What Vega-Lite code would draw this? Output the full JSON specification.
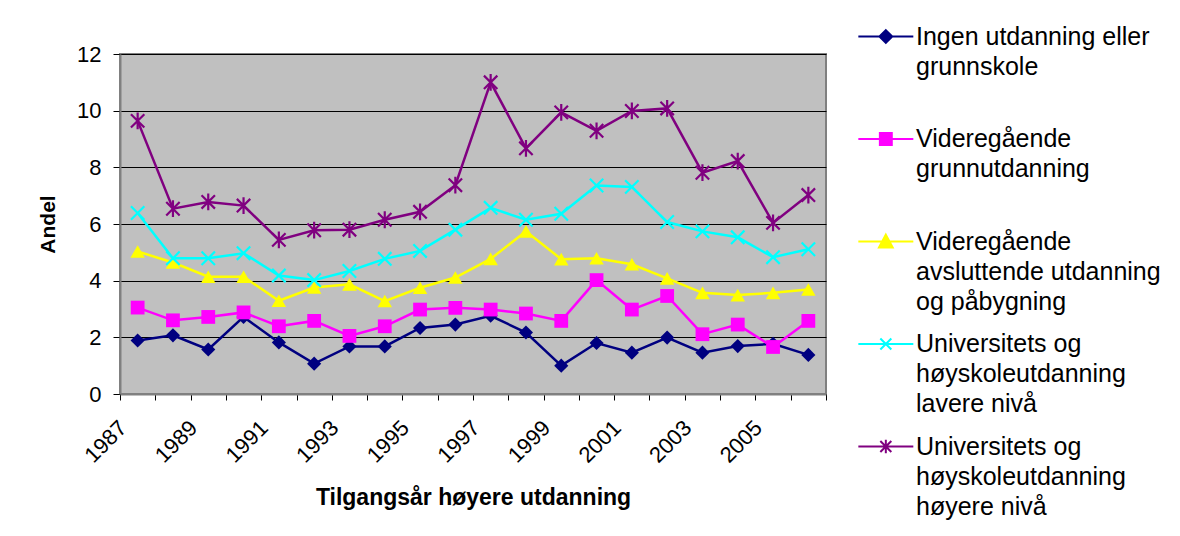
{
  "$schema": "https://vega.github.io/schema/vega-lite/v6.json",
  "autosize": {"type": "none"},
  "width": 706,
  "height": 340,
  "padding": {"left": 120, "top": 54, "right": 354, "bottom": 142},
  "background": "white",
  "config": {
    "view": {"fill": "#C0C0C0", "stroke": "#808080", "strokeWidth": 2},
    "font": "Liberation Sans",
    "axis": {"labelFont": "Liberation Sans", "titleFont": "Liberation Sans", "labelColor": "#000000", "titleColor": "#000000", "tickColor": "#000000", "domainColor": "#808080", "domainWidth": 2}
  },
  "data": {"values": [
    {"year": "1987", "series": "Ingen utdanning eller grunnskole", "value": 1.89},
    {"year": "1988", "series": "Ingen utdanning eller grunnskole", "value": 2.07},
    {"year": "1989", "series": "Ingen utdanning eller grunnskole", "value": 1.57},
    {"year": "1990", "series": "Ingen utdanning eller grunnskole", "value": 2.72},
    {"year": "1991", "series": "Ingen utdanning eller grunnskole", "value": 1.82},
    {"year": "1992", "series": "Ingen utdanning eller grunnskole", "value": 1.07},
    {"year": "1993", "series": "Ingen utdanning eller grunnskole", "value": 1.68},
    {"year": "1994", "series": "Ingen utdanning eller grunnskole", "value": 1.68},
    {"year": "1995", "series": "Ingen utdanning eller grunnskole", "value": 2.33},
    {"year": "1996", "series": "Ingen utdanning eller grunnskole", "value": 2.45},
    {"year": "1997", "series": "Ingen utdanning eller grunnskole", "value": 2.76},
    {"year": "1998", "series": "Ingen utdanning eller grunnskole", "value": 2.17},
    {"year": "1999", "series": "Ingen utdanning eller grunnskole", "value": 1.0},
    {"year": "2000", "series": "Ingen utdanning eller grunnskole", "value": 1.8},
    {"year": "2001", "series": "Ingen utdanning eller grunnskole", "value": 1.46},
    {"year": "2002", "series": "Ingen utdanning eller grunnskole", "value": 1.99},
    {"year": "2003", "series": "Ingen utdanning eller grunnskole", "value": 1.46},
    {"year": "2004", "series": "Ingen utdanning eller grunnskole", "value": 1.69},
    {"year": "2005", "series": "Ingen utdanning eller grunnskole", "value": 1.77},
    {"year": "2006", "series": "Ingen utdanning eller grunnskole", "value": 1.38},
    {"year": "1987", "series": "Videregående grunnutdanning", "value": 3.05},
    {"year": "1988", "series": "Videregående grunnutdanning", "value": 2.6},
    {"year": "1989", "series": "Videregående grunnutdanning", "value": 2.72},
    {"year": "1990", "series": "Videregående grunnutdanning", "value": 2.88},
    {"year": "1991", "series": "Videregående grunnutdanning", "value": 2.39},
    {"year": "1992", "series": "Videregående grunnutdanning", "value": 2.58},
    {"year": "1993", "series": "Videregående grunnutdanning", "value": 2.05},
    {"year": "1994", "series": "Videregående grunnutdanning", "value": 2.39},
    {"year": "1995", "series": "Videregående grunnutdanning", "value": 2.98},
    {"year": "1996", "series": "Videregående grunnutdanning", "value": 3.04},
    {"year": "1997", "series": "Videregående grunnutdanning", "value": 2.98},
    {"year": "1998", "series": "Videregående grunnutdanning", "value": 2.84},
    {"year": "1999", "series": "Videregående grunnutdanning", "value": 2.58},
    {"year": "2000", "series": "Videregående grunnutdanning", "value": 4.02},
    {"year": "2001", "series": "Videregående grunnutdanning", "value": 2.98},
    {"year": "2002", "series": "Videregående grunnutdanning", "value": 3.46},
    {"year": "2003", "series": "Videregående grunnutdanning", "value": 2.11},
    {"year": "2004", "series": "Videregående grunnutdanning", "value": 2.45},
    {"year": "2005", "series": "Videregående grunnutdanning", "value": 1.66},
    {"year": "2006", "series": "Videregående grunnutdanning", "value": 2.58},
    {"year": "1987", "series": "Videregående avsluttende utdanning og påbygning", "value": 5.03},
    {"year": "1988", "series": "Videregående avsluttende utdanning og påbygning", "value": 4.64},
    {"year": "1989", "series": "Videregående avsluttende utdanning og påbygning", "value": 4.14},
    {"year": "1990", "series": "Videregående avsluttende utdanning og påbygning", "value": 4.14},
    {"year": "1991", "series": "Videregående avsluttende utdanning og påbygning", "value": 3.29},
    {"year": "1992", "series": "Videregående avsluttende utdanning og påbygning", "value": 3.76},
    {"year": "1993", "series": "Videregående avsluttende utdanning og påbygning", "value": 3.87},
    {"year": "1994", "series": "Videregående avsluttende utdanning og påbygning", "value": 3.28},
    {"year": "1995", "series": "Videregående avsluttende utdanning og påbygning", "value": 3.75},
    {"year": "1996", "series": "Videregående avsluttende utdanning og påbygning", "value": 4.11},
    {"year": "1997", "series": "Videregående avsluttende utdanning og påbygning", "value": 4.77},
    {"year": "1998", "series": "Videregående avsluttende utdanning og påbygning", "value": 5.74},
    {"year": "1999", "series": "Videregående avsluttende utdanning og påbygning", "value": 4.76},
    {"year": "2000", "series": "Videregående avsluttende utdanning og påbygning", "value": 4.79},
    {"year": "2001", "series": "Videregående avsluttende utdanning og påbygning", "value": 4.58},
    {"year": "2002", "series": "Videregående avsluttende utdanning og påbygning", "value": 4.08},
    {"year": "2003", "series": "Videregående avsluttende utdanning og påbygning", "value": 3.57},
    {"year": "2004", "series": "Videregående avsluttende utdanning og påbygning", "value": 3.49},
    {"year": "2005", "series": "Videregående avsluttende utdanning og påbygning", "value": 3.57},
    {"year": "2006", "series": "Videregående avsluttende utdanning og påbygning", "value": 3.69},
    {"year": "1987", "series": "Universitets og høyskoleutdanning lavere nivå", "value": 6.39},
    {"year": "1988", "series": "Universitets og høyskoleutdanning lavere nivå", "value": 4.79},
    {"year": "1989", "series": "Universitets og høyskoleutdanning lavere nivå", "value": 4.79},
    {"year": "1990", "series": "Universitets og høyskoleutdanning lavere nivå", "value": 4.97},
    {"year": "1991", "series": "Universitets og høyskoleutdanning lavere nivå", "value": 4.18},
    {"year": "1992", "series": "Universitets og høyskoleutdanning lavere nivå", "value": 4.02},
    {"year": "1993", "series": "Universitets og høyskoleutdanning lavere nivå", "value": 4.34},
    {"year": "1994", "series": "Universitets og høyskoleutdanning lavere nivå", "value": 4.77},
    {"year": "1995", "series": "Universitets og høyskoleutdanning lavere nivå", "value": 5.05},
    {"year": "1996", "series": "Universitets og høyskoleutdanning lavere nivå", "value": 5.8},
    {"year": "1997", "series": "Universitets og høyskoleutdanning lavere nivå", "value": 6.57},
    {"year": "1998", "series": "Universitets og høyskoleutdanning lavere nivå", "value": 6.15},
    {"year": "1999", "series": "Universitets og høyskoleutdanning lavere nivå", "value": 6.36},
    {"year": "2000", "series": "Universitets og høyskoleutdanning lavere nivå", "value": 7.36},
    {"year": "2001", "series": "Universitets og høyskoleutdanning lavere nivå", "value": 7.31},
    {"year": "2002", "series": "Universitets og høyskoleutdanning lavere nivå", "value": 6.07},
    {"year": "2003", "series": "Universitets og høyskoleutdanning lavere nivå", "value": 5.74},
    {"year": "2004", "series": "Universitets og høyskoleutdanning lavere nivå", "value": 5.53},
    {"year": "2005", "series": "Universitets og høyskoleutdanning lavere nivå", "value": 4.83},
    {"year": "2006", "series": "Universitets og høyskoleutdanning lavere nivå", "value": 5.11},
    {"year": "1987", "series": "Universitets og høyskoleutdanning høyere nivå", "value": 9.64},
    {"year": "1988", "series": "Universitets og høyskoleutdanning høyere nivå", "value": 6.54},
    {"year": "1989", "series": "Universitets og høyskoleutdanning høyere nivå", "value": 6.78},
    {"year": "1990", "series": "Universitets og høyskoleutdanning høyere nivå", "value": 6.65},
    {"year": "1991", "series": "Universitets og høyskoleutdanning høyere nivå", "value": 5.44},
    {"year": "1992", "series": "Universitets og høyskoleutdanning høyere nivå", "value": 5.78},
    {"year": "1993", "series": "Universitets og høyskoleutdanning høyere nivå", "value": 5.8},
    {"year": "1994", "series": "Universitets og høyskoleutdanning høyere nivå", "value": 6.15},
    {"year": "1995", "series": "Universitets og høyskoleutdanning høyere nivå", "value": 6.43},
    {"year": "1996", "series": "Universitets og høyskoleutdanning høyere nivå", "value": 7.37},
    {"year": "1997", "series": "Universitets og høyskoleutdanning høyere nivå", "value": 11.0},
    {"year": "1998", "series": "Universitets og høyskoleutdanning høyere nivå", "value": 8.67},
    {"year": "1999", "series": "Universitets og høyskoleutdanning høyere nivå", "value": 9.94},
    {"year": "2000", "series": "Universitets og høyskoleutdanning høyere nivå", "value": 9.29},
    {"year": "2001", "series": "Universitets og høyskoleutdanning høyere nivå", "value": 9.99},
    {"year": "2002", "series": "Universitets og høyskoleutdanning høyere nivå", "value": 10.08},
    {"year": "2003", "series": "Universitets og høyskoleutdanning høyere nivå", "value": 7.81},
    {"year": "2004", "series": "Universitets og høyskoleutdanning høyere nivå", "value": 8.22},
    {"year": "2005", "series": "Universitets og høyskoleutdanning høyere nivå", "value": 6.04},
    {"year": "2006", "series": "Universitets og høyskoleutdanning høyere nivå", "value": 7.02}
  ]},
  "encoding": {
    "x": {
      "field": "year", "type": "ordinal",
      "scale": {"type": "band", "paddingInner": 0, "paddingOuter": 0},
      "axis": {
        "title": "Tilgangsår høyere utdanning",
        "titleFontSize": 23, "titleFontWeight": "bold", "titlePadding": 20,
        "tickBand": "extent", "tickSize": 6, "grid": false,
        "labelAngle": -45, "labelAlign": "right", "labelBaseline": "middle",
        "labelOffset": -15, "labelPadding": 24, "labelFontSize": 22,
        "labelOverlap": false,
        "labelExpr": "toNumber(datum.value) % 2 == 1 ? datum.value : ''"
      }
    },
    "y": {
      "field": "value", "type": "quantitative",
      "scale": {"domain": [0, 12], "nice": false, "zero": true},
      "axis": {
        "title": "Andel", "titleFontSize": 21, "titleFontWeight": "bold", "titlePadding": 18,
        "values": [0, 2, 4, 6, 8, 10, 12],
        "tickSize": 7, "labelPadding": 12, "labelFontSize": 22,
        "grid": true, "gridColor": "#000000", "gridWidth": 1, "gridOpacity": 1
      }
    }
  },
  "layer": [
    {
      "mark": {"type": "line", "strokeWidth": 2.5},
      "encoding": {
        "color": {
          "field": "series", "type": "nominal",
          "scale": {
            "domain": ["Ingen utdanning eller grunnskole", "Videregående grunnutdanning", "Videregående avsluttende utdanning og påbygning", "Universitets og høyskoleutdanning lavere nivå", "Universitets og høyskoleutdanning høyere nivå"],
            "range": ["#000080", "#FF00FF", "#FFFF00", "#00FFFF", "#800080"]
          },
          "legend": {
            "title": null,
            "orient": "none", "legendX": 735, "legendY": -30,
            "padding": 0,
            "symbolSize": 336, "symbolStrokeWidth": 2,
            "labelFont": "Liberation Sans", "labelFontSize": 25, "labelColor": "#000000",
            "labelLimit": 400, "labelOffset": 36, "labelBaseline": "top",
            "rowPadding": 16.5,
            "labelExpr": "datum.label == 'Ingen utdanning eller grunnskole' ? ['Ingen utdanning eller', 'grunnskole', ''] : datum.label == 'Videregående grunnutdanning' ? ['Videregående', 'grunnutdanning', ''] : datum.label == 'Videregående avsluttende utdanning og påbygning' ? ['Videregående', 'avsluttende utdanning', 'og påbygning'] : datum.label == 'Universitets og høyskoleutdanning lavere nivå' ? ['Universitets og', 'høyskoleutdanning', 'lavere nivå'] : ['Universitets og', 'høyskoleutdanning', 'høyere nivå']",
            "encode": {
              "labels": {"update": {"lineHeight": {"value": 30}, "dy": {"value": -12}}},
              "symbols": {"update": {
                "shape": {"signal": "datum.value == 'Ingen utdanning eller grunnskole' ? 'M-1,0L5,0M2,-0.7L2.7,0L2,0.7L1.3,0Z' : datum.value == 'Videregående grunnutdanning' ? 'M-1,0L5,0M1.35,-0.65L2.65,-0.65L2.65,0.65L1.35,0.65Z' : datum.value == 'Videregående avsluttende utdanning og påbygning' ? 'M-1,0L5,0M2,-0.75L2.75,0.65L1.25,0.65Z' : datum.value == 'Universitets og høyskoleutdanning lavere nivå' ? 'M-1,0L5,0M1.4,-0.6L2.6,0.6M1.4,0.6L2.6,-0.6' : 'M-1,0L5,0M1.4,-0.6L2.6,0.6M1.4,0.6L2.6,-0.6M2,-0.75L2,0.75'"},
                "fill": {"scale": "color", "field": "value"},
                "stroke": {"scale": "color", "field": "value"},
                "strokeWidth": {"value": 2}
              }}
            }
          }
        }
      }
    },
    {
      "transform": [{"filter": "datum.series == 'Ingen utdanning eller grunnskole'"}],
      "mark": {"type": "point", "shape": "diamond", "filled": true, "opacity": 1, "color": "#000080", "size": 200}
    },
    {
      "transform": [{"filter": "datum.series == 'Videregående grunnutdanning'"}],
      "mark": {"type": "point", "shape": "square", "filled": true, "opacity": 1, "color": "#FF00FF", "size": 190}
    },
    {
      "transform": [{"filter": "datum.series == 'Videregående avsluttende utdanning og påbygning'"}],
      "mark": {"type": "point", "shape": "triangle-up", "filled": true, "opacity": 1, "color": "#FFFF00", "size": 210}
    },
    {
      "transform": [{"filter": "datum.series == 'Universitets og høyskoleutdanning lavere nivå'"}],
      "mark": {"type": "point", "shape": "M-1,-1L1,1M-1,1L1,-1", "filled": false, "opacity": 1, "color": "#00FFFF", "strokeWidth": 2.2, "size": 180}
    },
    {
      "transform": [{"filter": "datum.series == 'Universitets og høyskoleutdanning høyere nivå'"}],
      "mark": {"type": "point", "shape": "M-1,-1L1,1M-1,1L1,-1M0,-1.25L0,1.25", "filled": false, "opacity": 1, "color": "#800080", "strokeWidth": 2.2, "size": 180}
    }
  ]
}
